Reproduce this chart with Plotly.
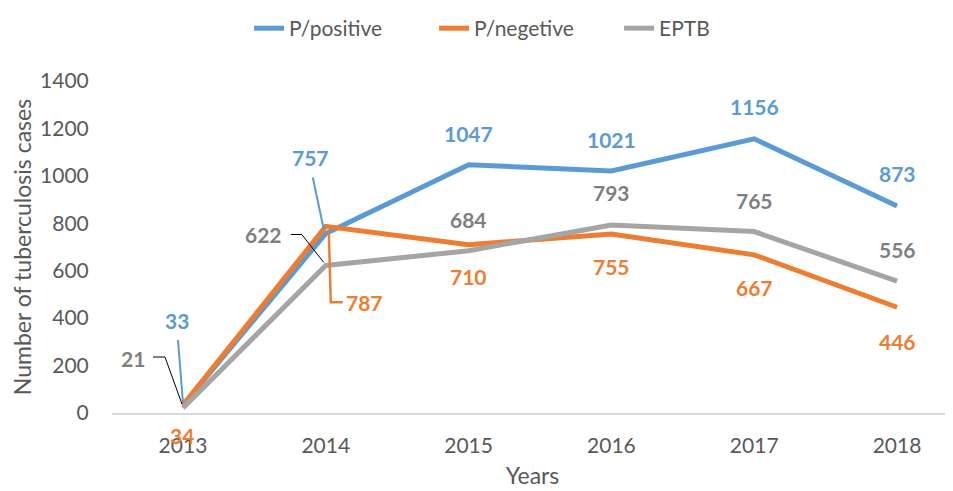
import plotly.graph_objects as go

years = [2013, 2014, 2015, 2016, 2017, 2018]
p_positive = [33, 757, 1047, 1021, 1156, 873]
p_negative = [34, 787, 710, 755, 667, 446]
eptb = [21, 622, 684, 793, 765, 556]

series = [
    ("P/positive", p_positive, "#5B9BD5", "#5B9BD5"),
    ("P/negetive", p_negative, "#ED7D31", "#ED7D31"),
    ("EPTB", eptb, "#A5A5A5", "#7F7F7F"),
]

# label offsets in pixels (xshift, yshift) per series per point
label_offsets = {
    "P/positive": [(-6, 85), (-15, 76), (0, 31), (0, 31), (0, 32), (0, 32)],
    "P/negetive": [(-1, -31), (39, -76), (0, -32), (0, -33), (0, -33), (0, -34)],
    "EPTB": [(-50, 50), (-62, 31), (0, 31), (0, 32), (0, 31), (0, 32)],
}
# leader lines: (series, point index, pixel path points, color, width)
leaders = [
    ("P/positive", 0, [(-5, 65), (0, 2)], "#5B9BD5", 2),
    ("P/positive", 1, [(-13, 56), (-2, 4)], "#5B9BD5", 2),
    ("P/negetive", 1, [(3, -5), (5, -76), (17, -76)], "#ED7D31", 2.5),
    ("EPTB", 0, [(-30, 51), (-18, 51), (-1, 4)], "#000000", 1),
    ("EPTB", 1, [(-35, 31), (-24, 31), (-2, 3)], "#000000", 1),
]

FONT = "Lato"
fig = go.Figure()
lookup = {}
for name, vals, col, lcol in series:
    lookup[name] = vals
    fig.add_trace(go.Scatter(x=years, y=vals, mode="lines", name=name,
                             line=dict(color=col, width=5)))
    for i, (xv, yv) in enumerate(zip(years, vals)):
        dx, dy = label_offsets[name][i]
        fig.add_annotation(x=xv, y=yv, xref="x", yref="y", text="<b>%d</b>" % yv,
                           showarrow=False, xshift=dx, yshift=dy,
                           font=dict(family=FONT, size=21, color=lcol))

for name, idx, pts, col, w in leaders:
    path = "M " + " L ".join("%g,%g" % p for p in pts)
    fig.add_shape(type="path", xsizemode="pixel", ysizemode="pixel",
                  xanchor=years[idx], yanchor=lookup[name][idx], path=path,
                  xref="x", yref="y", line=dict(color=col, width=w))

fig.update_layout(
    width=945, height=483,
    margin=dict(l=104, r=0, t=64, b=78),
    paper_bgcolor="white", plot_bgcolor="white",
    font=dict(family=FONT, size=21, color="#595959"),
    legend=dict(orientation="h", x=0.163, xanchor="left", y=1.158, yanchor="middle",
                entrywidth=140, entrywidthmode="pixels",
                font=dict(size=21, color="#595959"), bgcolor="rgba(0,0,0,0)"),
    xaxis=dict(range=[2012.503, 2018.392], tickmode="array", tickvals=years,
               ticktext=[str(y) for y in years], showgrid=False, zeroline=False,
               showline=True, linecolor="#D9D9D9", linewidth=1.5,
               ticks="outside", ticklen=13, tickcolor="rgba(0,0,0,0)",
               tickfont=dict(size=21, color="#595959"),
               title=dict(text="Years", font=dict(size=23, color="#595959"), standoff=12)),
    yaxis=dict(range=[0, 1400], dtick=200, showgrid=False, zeroline=False,
               showline=False, ticks="outside", ticklen=18, tickcolor="rgba(0,0,0,0)",
               tickfont=dict(size=21, color="#595959"),
               title=dict(text="Number of tuberculosis cases",
                          font=dict(size=23, color="#595959"), standoff=10)),
)

fig.write_html("out.html")
